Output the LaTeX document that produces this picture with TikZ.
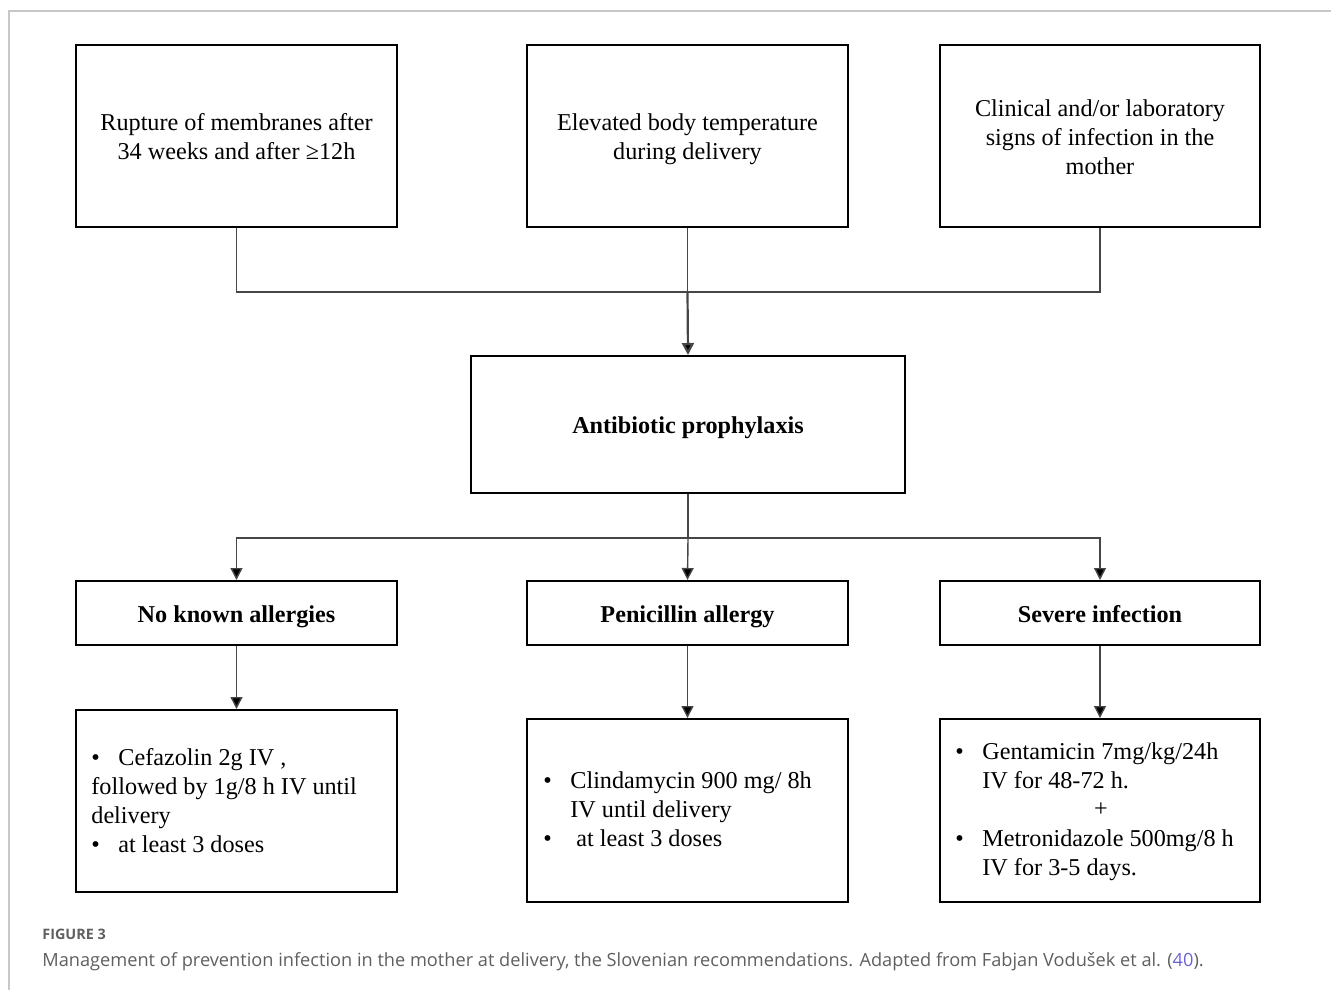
\documentclass[tikz,border=0pt]{standalone}
\usepackage{fontspec}
\setmainfont{Liberation Serif}
\newfontfamily\capfont{Open Sans}
\usetikzlibrary{arrows.meta}
\definecolor{framegray}{RGB}{200,200,200}
\definecolor{conngray}{RGB}{70,70,70}
\definecolor{capgray}{RGB}{95,95,95}
\definecolor{reflink}{RGB}{110,100,215}
\newcommand{\bul}[1]{\makebox[#1][l]{\textbullet}}
\begin{document}
\begin{tikzpicture}[x=0.5pt,y=-0.5pt,
  box/.style={draw=black,line width=1pt,inner sep=0pt,fill=white},
  conn/.style={draw=conngray,line width=0.7pt},
  arr/.style={conn,-{Triangle[length=6pt,width=6pt,fill=black]}},
  txt/.style={inner sep=0pt,font=\fontsize{12.1pt}{14.5pt}\selectfont},
  ctxt/.style={txt,align=center},
  btxt/.style={inner sep=0pt,anchor=base,font=\fontsize{12.1pt}{14.5pt}\selectfont\bfseries},
  ltxt/.style={txt,anchor=base west}]
\useasboundingbox (0,0) rectangle (1331,990);
% frame
\draw[framegray,line width=0.75pt] (9,990) -- (9,11) -- (1331,11);
% top boxes
\node[box,minimum width=160.5pt,minimum height=91pt] (b1) at (236.5,136) {};
\node[box,minimum width=160.5pt,minimum height=91pt] (b2) at (687.5,136) {};
\node[box,minimum width=160pt,minimum height=91pt] (b3) at (1100,136) {};
\node[ctxt] (t1) at (236.5,137) {Rupture of membranes after\\34 weeks and after \char"2265 12h};
\node[ctxt] (t2) at (687.5,139) {Elevated body temperature\\during delivery};
\node[ctxt] (t3) at (1100,137) {Clinical and/or laboratory\\signs of infection in the\\mother};
% antibiotic
\node[box,minimum width=217pt,minimum height=68.5pt] (ab) at (688,424.5) {};
\node[btxt] (abt) at (688,433) {Antibiotic prophylaxis};
% middle boxes
\node[box,minimum width=160.5pt,minimum height=32pt] (m1) at (236.5,613) {};
\node[box,minimum width=160.5pt,minimum height=32pt] (m2) at (687.5,613) {};
\node[box,minimum width=160pt,minimum height=32pt] (m3) at (1100,613) {};
\node[btxt] (m1t) at (236.5,622) {No known allergies};
\node[btxt] (m2t) at (687.5,622) {Penicillin allergy};
\node[btxt] (m3t) at (1100,622) {Severe infection};
% bottom boxes
\node[box,minimum width=160.5pt,minimum height=91pt] (d1) at (236.5,801) {};
\node[box,minimum width=160.5pt,minimum height=91.5pt] (d2) at (687.5,810.5) {};
\node[box,minimum width=160pt,minimum height=91.5pt] (d3) at (1100,810.5) {};
% bottom texts
\node[ltxt] (d1a) at (91,765) {\bul{13.5pt}Cefazolin 2g IV ,};
\node[ltxt] (d1b) at (91,794) {followed by 1g/8 h IV until};
\node[ltxt] (d1c) at (91,823) {delivery};
\node[ltxt] (d1d) at (91,852) {\bul{13.5pt}at least 3 doses};
\node[ltxt] (d2a) at (543,788) {\bul{13.5pt}Clindamycin 900 mg/ 8h};
\node[ltxt] (d2b) at (570,817) {IV until delivery};
\node[ltxt] (d2c) at (543,846) {\bul{16.5pt}at least 3 doses};
\node[ltxt] (d3a) at (955,759) {\bul{13.5pt}Gentamicin 7mg/kg/24h};
\node[ltxt] (d3b) at (982,788) {IV for 48-72 h.};
\node[txt] (d3c) at (1101,810) {+};
\node[ltxt] (d3d) at (955,846) {\bul{13.5pt}Metronidazole 500mg/8 h};
\node[ltxt] (d3e) at (982,875) {IV for 3-5 days.};
% connectors top
\coordinate (j) at (687.5,292);
\draw[conn] (b1.south) |- (j) -| (b3.south);
\draw[conn] (b2.south) -- (j);
\draw[arr,line width=1.1pt] (j) -- (ab.north);
% connectors middle
\coordinate (k) at (688,538);
\draw[conn] (ab.south) -- (k);
\draw[arr] (k) -| (m1.north);
\draw[arr] (k) -| (m3.north);
\draw[arr] (k) -- (m2.north);
% connectors bottom
\draw[arr] (m1.south) -- (d1.north);
\draw[arr] (m2.south) -- (d2.north);
\draw[arr] (m3.south) -- (d3.north);
% caption
\node[anchor=west,inner sep=0pt,text=capgray,font=\capfont\fontsize{7.2pt}{9pt}\selectfont\bfseries] (fig) at (42,934) {FIGURE 3};
\node[anchor=west,inner sep=0pt,text=capgray,font=\capfont\fontsize{9.1pt}{11pt}\selectfont] (cap) at (42,962) {Management of prevention infection in the mother at delivery, the Slovenian recommendations. Adapted from Fabjan Vodušek et al. ({\color{reflink}40}).};
\end{tikzpicture}
\end{document}
